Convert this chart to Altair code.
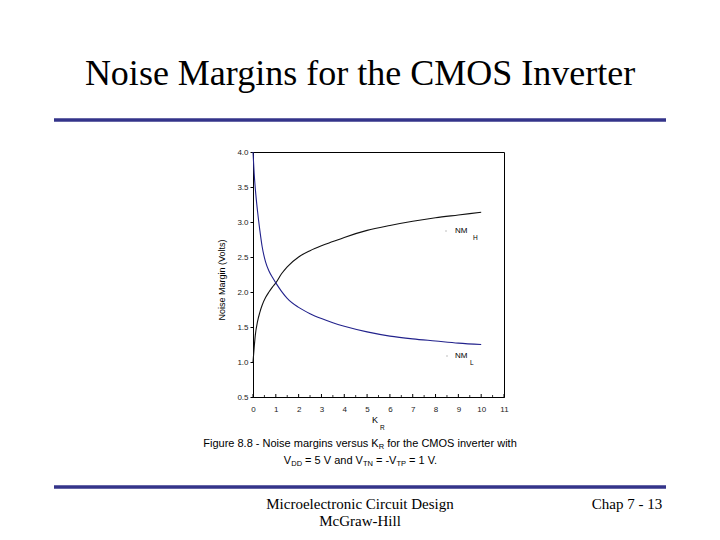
import altair as alt
import pandas as pd

# ---------------- data ----------------
k_r = [0, 0.05, 0.1, 0.2, 0.3, 0.4, 0.55, 0.7, 0.85, 1, 1.25, 1.5, 2, 2.5, 3, 3.5, 4, 5, 6, 7, 8, 9, 10]
nm_h = [1.0, 1.2, 1.38, 1.58, 1.71, 1.81, 1.92, 2.0, 2.07, 2.13, 2.26, 2.36, 2.50, 2.59, 2.66, 2.72, 2.78,
        2.88, 2.95, 3.01, 3.06, 3.10, 3.14]
nm_l = [4.0, 3.7, 3.48, 3.15, 2.88, 2.65, 2.43, 2.3, 2.21, 2.13, 2.01, 1.91, 1.78, 1.69, 1.62, 1.56, 1.51,
        1.43, 1.37, 1.33, 1.30, 1.27, 1.25]
series_names = ["NMH", "NML"]
x_ticks_major = list(range(0, 12))
x_ticks_minor = [i + 0.5 for i in range(11)]
y_ticks = [0.5, 1.0, 1.5, 2.0, 2.5, 3.0, 3.5, 4.0]

slide_title = "Noise Margins for the CMOS Inverter"
footer_left_1 = "Microelectronic Circuit Design"
footer_left_2 = "McGraw-Hill"
footer_right = "Chap 7 - 13"
y_title = "Noise Margin (Volts)"
caption_1 = [("Figure 8.8 - Noise margins versus K", "main"), ("R", "sub"), (" for the CMOS inverter with", "main")]
caption_2 = [("V", "main"), ("DD", "sub"), (" = 5 V and V", "main"), ("TN", "sub"), (" = -V", "main"),
             ("TP", "sub"), (" = 1 V.", "main")]

# ---------------- layout ----------------
PL, PT = 253, 152          # page position of plot area
W, H = 251, 245
BLUE = "#34348a"
SERIF = "Liberation Serif"
SANS = "Liberation Sans"
series_colors = ["#111111", "#22228c"]

# Arial / Liberation Sans advance widths (per 1000 em) for laying out caption pieces
ARIAL = {" ": 278, ".": 278, "-": 333, "=": 584, "(": 333, ")": 333,
         "F": 611, "K": 667, "N": 722, "C": 722, "M": 833, "O": 778, "S": 667, "R": 722,
         "V": 667, "D": 722, "T": 611, "P": 667, "L": 556, "H": 722,
         "a": 556, "b": 556, "c": 500, "d": 556, "e": 556, "f": 278, "g": 556, "h": 556,
         "i": 222, "j": 222, "k": 500, "l": 222, "m": 833, "n": 556, "o": 556, "p": 556,
         "q": 556, "r": 333, "s": 500, "t": 278, "u": 556, "v": 500, "w": 722, "x": 500,
         "y": 500, "z": 500}


def text_width(s, size):
    return sum(ARIAL.get(ch, 556) for ch in s) * size / 1000.0


n = len(k_r)
df = pd.DataFrame({
    "K": k_r + k_r,
    "NM": nm_h + nm_l,
    "series": [series_names[0]] * n + [series_names[1]] * n,
})

xscale = alt.Scale(domain=[0, 11], nice=False, zero=False)
yscale = alt.Scale(domain=[0.5, 4.0], nice=False, zero=False)
x_axis = alt.Axis(values=x_ticks_major, title=None, tickSize=0, labelPadding=8,
                  labelFontSize=8, labelFont=SANS, labelColor="#222", grid=False,
                  domainColor="black", labelFlush=False, labelOverlap=False)
y_axis = alt.Axis(values=y_ticks, format=".1f", title=None, tickSize=3, labelPadding=2,
                  labelFontSize=8, labelFont=SANS, labelColor="#222", grid=False,
                  domainColor="black", tickColor="black", labelFlush=False, labelOverlap=False)

lines = alt.Chart(df).mark_line(strokeWidth=1.1, interpolate="monotone").encode(
    x=alt.X("K:Q", scale=xscale, axis=x_axis),
    y=alt.Y("NM:Q", scale=yscale, axis=y_axis),
    color=alt.Color("series:N", scale=alt.Scale(domain=series_names, range=series_colors), legend=None),
)

major_ticks = alt.Chart(pd.DataFrame({"t": x_ticks_major})).mark_rule(color="black", strokeWidth=1).encode(
    x=alt.X("t:Q", scale=xscale, axis=x_axis), y=alt.value(H), y2=alt.value(H - 3))
minor_ticks = alt.Chart(pd.DataFrame({"t": x_ticks_minor})).mark_rule(color="black", strokeWidth=0.8).encode(
    x=alt.X("t:Q", scale=xscale, axis=x_axis), y=alt.value(H), y2=alt.value(H - 2))


def txt(s, px, py, size, font=SANS, align="left", baseline="middle", angle=0, color="black", weight="normal"):
    return alt.Chart(alt.Data(values=[{}])).mark_text(
        text=s, fontSize=size, font=font, align=align, baseline=baseline, angle=angle,
        color=color, fontWeight=weight
    ).encode(x=alt.value(px - PL), y=alt.value(py - PT))


def hrule(py, x0, x1):
    return alt.Chart(alt.Data(values=[{}])).mark_rule(color=BLUE, strokeWidth=3.5).encode(
        x=alt.value(x0 - PL), x2=alt.value(x1 - PL), y=alt.value(py - PT))


def dot(px, py):
    return alt.Chart(alt.Data(values=[{}])).mark_point(
        filled=True, size=2, color="#aaaaaa", shape="square").encode(
        x=alt.value(px - PL), y=alt.value(py - PT))


def chain(pieces, center_x, py, main=11, sub=7.5, sub_dy=3):
    sizes = {"main": main, "sub": sub}
    widths = [text_width(s, sizes[k]) for s, k in pieces]
    x = center_x - sum(widths) / 2.0
    out = []
    for (s, k), w in zip(pieces, widths):
        stripped = s.lstrip(" ")
        lead = text_width(s[: len(s) - len(stripped)], sizes[k])
        out.append(txt(stripped, x + lead, py + (sub_dy if k == "sub" else 0), sizes[k]))
        x += w
    return out


annotations = [
    # slide title and rules
    txt(slide_title, 360, 85, 36, font=SERIF, align="center", baseline="alphabetic"),
    hrule(120, 54, 666),
    hrule(487, 54, 666),
    # footer
    txt(footer_left_1, 360, 504, 15, font=SERIF, align="center"),
    txt(footer_left_2, 360, 521, 15, font=SERIF, align="center"),
    txt(footer_right, 627, 504, 15, font=SERIF, align="center"),
    # axis titles
    txt(y_title, 222, 280, 9, align="center", angle=270),
    txt("K", 372, 420, 9),
    txt("R", 380, 428, 6.5),
    # curve labels
    dot(446, 231),
    txt("NM", 455, 231, 8),
    txt("H", 473, 238, 6.5),
    dot(447, 356),
    txt("NM", 455, 356, 8),
    txt("L", 470, 363, 6.5),
]
annotations += chain(caption_1, 360, 444, main=11, sub=7.5)
annotations += chain(caption_2, 361, 461, main=11, sub=7.5)

chart = alt.layer(lines, major_ticks, minor_ticks, *annotations).properties(
    width=W, height=H,
    autosize=alt.AutoSizeParams(type="none"),
    padding={"left": PL - 8, "top": PT - 8, "right": 204, "bottom": 133},
    background="white",
).configure_view(stroke="black", strokeWidth=1)

chart.save("out.html", embed_options={"renderer": "svg", "actions": False})
